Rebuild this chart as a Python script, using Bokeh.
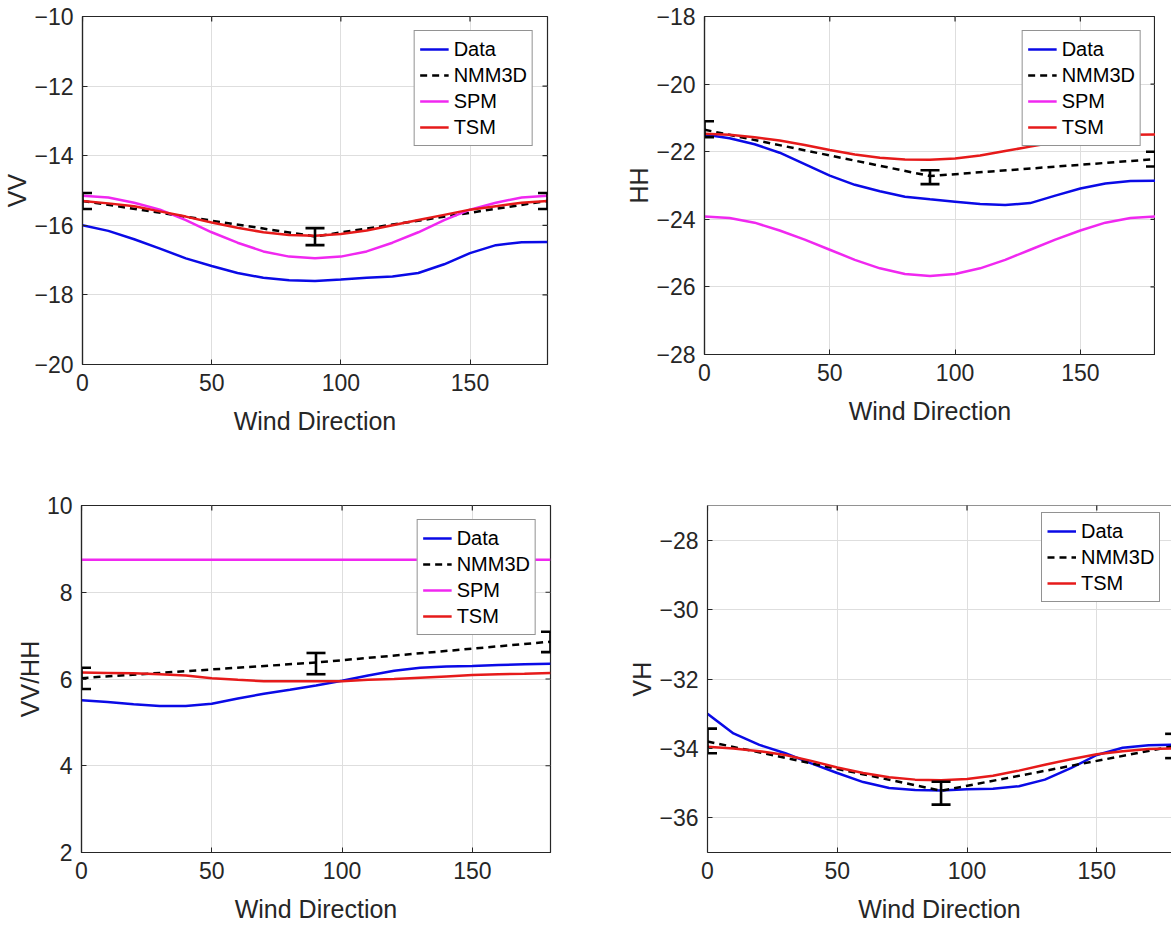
import math
from bokeh.plotting import figure
from bokeh.models import Range1d, FixedTicker, Legend, LegendItem, Span
from bokeh.layouts import column, row
from bokeh.embed import file_html
from bokeh.resources import INLINE

# ---------------- data ----------------
wind_dir = [0, 10, 20, 30, 40, 50, 60, 70, 80, 90, 100, 110, 120, 130, 140, 150, 160, 170, 180]
nmm_dir = [0, 90, 180]
x_ticks = [0, 50, 100, 150]

vv_data = [-16.0, -16.16, -16.4, -16.67, -16.95, -17.17, -17.37, -17.51, -17.58, -17.6,
           -17.56, -17.51, -17.47, -17.37, -17.12, -16.8, -16.57, -16.49, -16.48]
vv_spm = [-15.15, -15.2, -15.35, -15.55, -15.85, -16.2, -16.5, -16.75, -16.9, -16.95,
          -16.9, -16.75, -16.5, -16.2, -15.85, -15.55, -15.35, -15.2, -15.15]
vv_tsm = [-15.3, -15.37, -15.45, -15.6, -15.75, -15.92, -16.07, -16.2, -16.28, -16.3,
          -16.25, -16.15, -16.0, -15.85, -15.7, -15.55, -15.45, -15.35, -15.3]
vv_nmm = [-15.3, -16.32, -15.3]
vv_nmm_low = [-15.53, -16.57, -15.53]
vv_nmm_high = [-15.07, -16.08, -15.07]
vv_ticks = [-20, -18, -16, -14, -12, -10]

hh_data = [-21.49, -21.6, -21.78, -22.03, -22.37, -22.71, -22.98, -23.17, -23.33, -23.41,
           -23.48, -23.55, -23.58, -23.52, -23.3, -23.09, -22.94, -22.87, -22.86]
hh_spm = [-23.92, -23.96, -24.1, -24.33, -24.6, -24.9, -25.2, -25.45, -25.62, -25.68,
          -25.62, -25.45, -25.2, -24.9, -24.6, -24.33, -24.1, -23.96, -23.92]
hh_tsm = [-21.47, -21.5, -21.57, -21.67, -21.8, -21.95, -22.08, -22.18, -22.23, -22.24,
          -22.2, -22.11, -21.98, -21.85, -21.72, -21.59, -21.54, -21.5, -21.49]
hh_nmm = [-21.35, -22.72, -22.22]
hh_nmm_low = [-21.57, -22.96, -22.44]
hh_nmm_high = [-21.1, -22.55, -22.0]
hh_ticks = [-28, -26, -24, -22, -20, -18]

ratio_data = [5.51, 5.47, 5.42, 5.38, 5.38, 5.43, 5.55, 5.66, 5.75, 5.85,
              5.96, 6.08, 6.19, 6.26, 6.29, 6.3, 6.32, 6.34, 6.35]
ratio_spm = [8.75, 8.75, 8.75, 8.75, 8.75, 8.75, 8.75, 8.75, 8.75, 8.75,
             8.75, 8.75, 8.75, 8.75, 8.75, 8.75, 8.75, 8.75, 8.75]
ratio_tsm = [6.15, 6.14, 6.13, 6.11, 6.08, 6.02, 5.98, 5.95, 5.95, 5.95,
             5.95, 5.98, 6.0, 6.03, 6.06, 6.09, 6.11, 6.12, 6.14]
ratio_nmm = [6.02, 6.38, 6.86]
ratio_nmm_low = [5.77, 6.11, 6.62]
ratio_nmm_high = [6.26, 6.6, 7.09]
ratio_ticks = [2, 4, 6, 8, 10]

vh_data = [-33.0, -33.57, -33.9, -34.14, -34.43, -34.71, -34.97, -35.14, -35.2, -35.21,
           -35.18, -35.16, -35.09, -34.9, -34.57, -34.19, -33.98, -33.91, -33.89]
vh_tsm = [-33.95, -34.0, -34.08, -34.19, -34.36, -34.55, -34.71, -34.83, -34.9, -34.92,
          -34.88, -34.79, -34.64, -34.47, -34.31, -34.17, -34.08, -34.02, -34.0]
vh_nmm = [-33.8, -35.22, -33.93]
vh_nmm_low = [-34.14, -35.62, -34.28]
vh_nmm_high = [-33.43, -34.96, -33.58]
vh_ticks = [-36, -34, -32, -30, -28]

# ---------------- style ----------------
FONT = "Liberation Sans"
AX = "#262626"
BLUE = "#0a0ae6"
RED = "#e61a1a"
MAG = "#f028f0"
LW = 2.5


def tick_text(t):
    return str(t).replace("-", "\u2212")


def make_panel(w, h, left, right, top, bottom, xr, yr, yticks, ylabel,
               data, nmm, low, high, tsm, spm=None, legend_loc="top_right",
               right_ticks=True):
    p = figure(width=w, height=h, x_range=Range1d(*xr), y_range=Range1d(*yr),
               output_backend="svg", toolbar_location=None,
               min_border_left=left, min_border_right=right,
               min_border_top=top, min_border_bottom=bottom,
               background_fill_color="white", border_fill_color="white")
    p.outline_line_color = AX
    p.outline_line_width = 1.2
    for ax in (p.xaxis[0], p.yaxis[0]):
        ax.axis_line_color = AX
        ax.axis_line_width = 1.2
        ax.major_tick_line_color = AX
        ax.major_tick_in = 5
        ax.major_tick_out = 0
        ax.minor_tick_line_color = None
        ax.major_label_text_font = FONT
        ax.major_label_text_font_size = "23px"
        ax.major_label_text_color = AX
        ax.axis_label_text_font = FONT
        ax.axis_label_text_font_size = "25px"
        ax.axis_label_text_font_style = "normal"
        ax.axis_label_text_color = AX
    p.xaxis.ticker = FixedTicker(ticks=x_ticks)
    p.xaxis.major_label_overrides = {t: tick_text(t) for t in x_ticks}
    p.yaxis.ticker = FixedTicker(ticks=yticks)
    p.yaxis.major_label_overrides = {t: tick_text(t) for t in yticks}
    p.xaxis.axis_label = "Wind Direction"
    p.yaxis.axis_label = ylabel
    p.xaxis.major_label_standoff = 9
    p.xaxis.axis_label_standoff = 13
    p.yaxis.major_label_standoff = 9
    p.yaxis.axis_label_standoff = 0
    p.grid.grid_line_color = "#dedede"
    p.grid.grid_line_width = 1

    # mirrored (box) ticks on the top and right edges, half clipped by the frame
    p.scatter(x_ticks, [yr[1]] * len(x_ticks), marker="dash", size=10,
              angle=math.pi / 2, line_color=AX, line_width=1.2)
    if right_ticks:
        p.scatter([xr[1]] * len(yticks), yticks, marker="dash", size=10,
                  line_color=AX, line_width=1.2)

    r_data = p.line(wind_dir, data, line_color=BLUE, line_width=LW)
    r_nmm = p.line(nmm_dir, nmm, line_color="black", line_width=LW, line_dash="7 5")
    items = [LegendItem(label="Data", renderers=[r_data]),
             LegendItem(label="NMM3D", renderers=[r_nmm])]
    if spm is not None:
        r_spm = p.line(wind_dir, spm, line_color=MAG, line_width=LW)
        items.append(LegendItem(label="SPM", renderers=[r_spm]))
    r_tsm = p.line(wind_dir, tsm, line_color=RED, line_width=LW)
    items.append(LegendItem(label="TSM", renderers=[r_tsm]))

    # error bars of NMM3D
    p.segment(x0=nmm_dir, y0=low, x1=nmm_dir, y1=high, line_color="black", line_width=2.6)
    p.scatter(nmm_dir, low, marker="dash", size=19, line_color="black", line_width=2.6)
    p.scatter(nmm_dir, high, marker="dash", size=19, line_color="black", line_width=2.6)

    legend = Legend(items=items, location=legend_loc)
    legend.label_text_font = FONT
    legend.label_text_font_size = "20px"
    legend.label_text_color = "black"
    legend.border_line_color = AX
    legend.border_line_width = 1.2
    legend.background_fill_color = "white"
    legend.background_fill_alpha = 1.0
    legend.padding = 5
    legend.spacing = 0
    legend.margin = 14
    legend.glyph_width = 29
    legend.glyph_height = 26
    legend.label_height = 26
    legend.label_standoff = 5
    p.add_layout(legend)
    return p


# row 1: shared top/bottom borders; row 2 likewise; columns share left/right borders
p1 = make_panel(622, 454, 81, 75, 16, 90, (0, 180), (-20, -10), vv_ticks, "VV",
                vv_data, vv_nmm, vv_nmm_low, vv_nmm_high, vv_tsm, vv_spm)
p2 = make_panel(533, 444, 80, 0, 16, 90, (0, 180), (-28, -18), hh_ticks, "HH",
                hh_data, hh_nmm, hh_nmm_low, hh_nmm_high, hh_tsm, hh_spm)
p3 = make_panel(625, 471, 81, 75, 51, 71, (0, 180), (2, 10), ratio_ticks, "VV/HH",
                ratio_data, ratio_nmm, ratio_nmm_low, ratio_nmm_high, ratio_tsm, ratio_spm)
p4 = make_panel(546, 471, 80, 0, 51, 71, (0, 178.8), (-37, -27), vh_ticks, "VH",
                vh_data, vh_nmm, vh_nmm_low, vh_nmm_high, vh_tsm, None,
                legend_loc=(334, 250), right_ticks=False)
p4.outline_line_color = None
p4.legend[0].margin = 0
p4.add_layout(Span(location=-27, dimension="width", line_color=AX, line_width=1.2))

layout = column(row(p1, p2), row(p3, p4))
open("out.html", "w").write(file_html(layout, INLINE))
